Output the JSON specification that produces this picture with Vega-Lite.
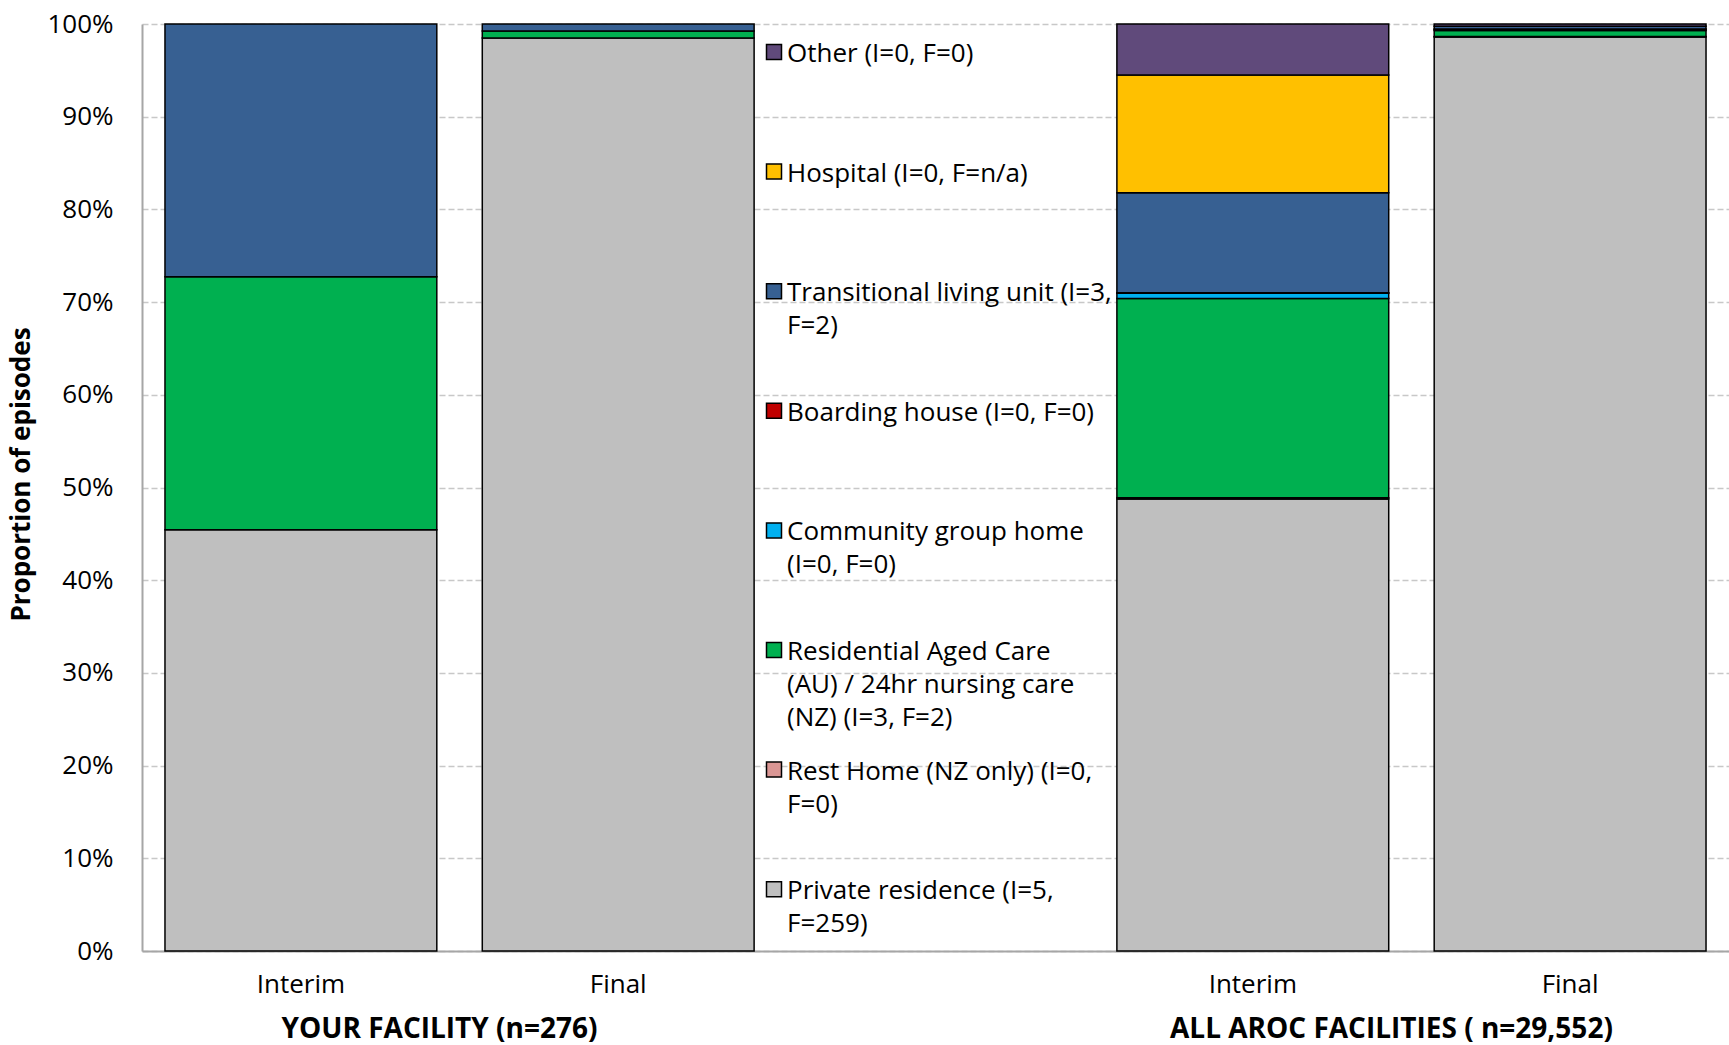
{
  "$schema": "https://vega.github.io/schema/vega-lite/v6.json",
  "width": 1587,
  "height": 927,
  "autosize": {"type": "none"},
  "padding": {"left": 142, "top": 24, "right": 0, "bottom": 94},
  "background": "white",
  "config": {
    "font": "Open Sans",
    "view": {"stroke": null}
  },
  "datasets": {
    "destinations": [
      {"dest": "Private residence (I=5, F=259)", "stack_rank": 1},
      {"dest": "Rest Home (NZ only) (I=0, F=0)", "stack_rank": 2},
      {"dest": "Residential Aged Care (AU) / 24hr nursing care (NZ) (I=3, F=2)", "stack_rank": 3},
      {"dest": "Community group home (I=0, F=0)", "stack_rank": 4},
      {"dest": "Boarding house (I=0, F=0)", "stack_rank": 5},
      {"dest": "Transitional living unit (I=3, F=2)", "stack_rank": 6},
      {"dest": "Hospital (I=0, F=n/a)", "stack_rank": 7},
      {"dest": "Other (I=0, F=0)", "stack_rank": 8}
    ],
    "shares": [
      {"bar": "Your facility – Interim", "dest": "Private residence (I=5, F=259)", "share": 45.45},
      {"bar": "Your facility – Interim", "dest": "Residential Aged Care (AU) / 24hr nursing care (NZ) (I=3, F=2)", "share": 27.27},
      {"bar": "Your facility – Interim", "dest": "Transitional living unit (I=3, F=2)", "share": 27.27},
      {"bar": "Your facility – Final", "dest": "Private residence (I=5, F=259)", "share": 98.48},
      {"bar": "Your facility – Final", "dest": "Residential Aged Care (AU) / 24hr nursing care (NZ) (I=3, F=2)", "share": 0.76},
      {"bar": "Your facility – Final", "dest": "Transitional living unit (I=3, F=2)", "share": 0.76},
      {"bar": "All AROC facilities – Interim", "dest": "Private residence (I=5, F=259)", "share": 48.75},
      {"bar": "All AROC facilities – Interim", "dest": "Rest Home (NZ only) (I=0, F=0)", "share": 0.15},
      {"bar": "All AROC facilities – Interim", "dest": "Residential Aged Care (AU) / 24hr nursing care (NZ) (I=3, F=2)", "share": 21.5},
      {"bar": "All AROC facilities – Interim", "dest": "Community group home (I=0, F=0)", "share": 0.55},
      {"bar": "All AROC facilities – Interim", "dest": "Boarding house (I=0, F=0)", "share": 0.05},
      {"bar": "All AROC facilities – Interim", "dest": "Transitional living unit (I=3, F=2)", "share": 10.8},
      {"bar": "All AROC facilities – Interim", "dest": "Hospital (I=0, F=n/a)", "share": 12.7},
      {"bar": "All AROC facilities – Interim", "dest": "Other (I=0, F=0)", "share": 5.5},
      {"bar": "All AROC facilities – Final", "dest": "Private residence (I=5, F=259)", "share": 98.6},
      {"bar": "All AROC facilities – Final", "dest": "Rest Home (NZ only) (I=0, F=0)", "share": 0.05},
      {"bar": "All AROC facilities – Final", "dest": "Residential Aged Care (AU) / 24hr nursing care (NZ) (I=3, F=2)", "share": 0.65},
      {"bar": "All AROC facilities – Final", "dest": "Community group home (I=0, F=0)", "share": 0.1},
      {"bar": "All AROC facilities – Final", "dest": "Boarding house (I=0, F=0)", "share": 0.05},
      {"bar": "All AROC facilities – Final", "dest": "Transitional living unit (I=3, F=2)", "share": 0.3},
      {"bar": "All AROC facilities – Final", "dest": "Other (I=0, F=0)", "share": 0.25}
    ],
    "groups": [
      {"bar": "Your facility – Interim", "label": "YOUR FACILITY (n=276)"},
      {"bar": "All AROC facilities – Interim", "label": "ALL AROC FACILITIES ( n=29,552)"}
    ]
  },
  "layer": [
    {
      "data": {"name": "shares"},
      "transform": [
        {"lookup": "dest", "from": {"data": {"name": "destinations"}, "key": "dest", "fields": ["stack_rank"]}}
      ],
      "mark": {"type": "bar", "stroke": "black", "strokeWidth": 1.5},
      "encoding": {
        "x": {
          "field": "bar",
          "type": "nominal",
          "sort": null,
          "scale": {
            "domain": ["Your facility – Interim", "Your facility – Final", "(legend)", "All AROC facilities – Interim", "All AROC facilities – Final"],
            "paddingInner": 0.1433,
            "paddingOuter": 0.0724
          },
          "axis": {
            "title": null,
            "labelExpr": "datum.value == '(legend)' ? '' : (indexof(datum.value, 'Interim') >= 0 ? 'Interim' : 'Final')",
            "labelAngle": 0,
            "ticks": false,
            "tickSize": 0,
            "labelPadding": 20,
            "labelFontSize": 26,
            "labelColor": "black",
            "labelFont": "Open Sans",
            "domainColor": "#A6A6A6",
            "domainWidth": 2,
            "grid": false
          }
        },
        "y": {
          "field": "share",
          "type": "quantitative",
          "stack": "normalize",
          "scale": {"domain": [0, 1]},
          "axis": {
            "title": "Proportion of episodes",
            "format": ".0%",
            "values": [0, 0.1, 0.2, 0.3, 0.4, 0.5, 0.6, 0.7, 0.8, 0.9, 1],
            "grid": true,
            "gridDash": [6, 3],
            "gridColor": "#C8C8C8",
            "gridWidth": 1.5,
            "ticks": false,
            "tickSize": 0,
            "domainColor": "#A6A6A6",
            "domainWidth": 2,
            "labelFontSize": 26,
            "labelColor": "black",
            "labelFont": "Open Sans",
            "labelPadding": 29,
            "titleFont": "Open Sans",
            "titleFontSize": 26,
            "titleFontWeight": "bold",
            "titleColor": "black",
            "titleX": -113,
            "titleY": 450,
            "titleBaseline": "alphabetic"
          }
        },
        "order": {"field": "stack_rank", "type": "quantitative"},
        "color": {
          "field": "dest",
          "type": "nominal",
          "scale": {
            "domain": ["Other (I=0, F=0)", "Hospital (I=0, F=n/a)", "Transitional living unit (I=3, F=2)", "Boarding house (I=0, F=0)", "Community group home (I=0, F=0)", "Residential Aged Care (AU) / 24hr nursing care (NZ) (I=3, F=2)", "Rest Home (NZ only) (I=0, F=0)", "Private residence (I=5, F=259)"],
            "range": ["#604A7B", "#FFC000", "#376092", "#C00000", "#00B0F0", "#00B050", "#DA9694", "#BFBFBF"]
          },
          "legend": {
            "title": null,
            "orient": "none",
            "legendX": 619,
            "legendY": 15,
            "direction": "vertical",
            "padding": 0,
            "symbolOffset": 0,
            "symbolType": "square",
            "symbolSize": 225,
            "symbolStrokeColor": "black",
            "symbolStrokeWidth": 1.5,
            "symbolOpacity": 1,
            "labelFont": "Open Sans",
            "labelFontSize": 26,
            "labelColor": "black",
            "labelLimit": 600,
            "labelOffset": 0,
            "labelBaseline": "top",
            "rowPadding": 25.6,
            "labelExpr": "datum.label == 'Transitional living unit (I=3, F=2)' ? ['Transitional living unit (I=3,', 'F=2)', ''] : datum.label == 'Community group home (I=0, F=0)' ? ['Community group home', '(I=0, F=0)', ''] : datum.label == 'Residential Aged Care (AU) / 24hr nursing care (NZ) (I=3, F=2)' ? ['Residential Aged Care', '(AU) / 24hr nursing care', '(NZ) (I=3, F=2)'] : datum.label == 'Rest Home (NZ only) (I=0, F=0)' ? ['Rest Home (NZ only) (I=0,', 'F=0)', ''] : datum.label == 'Private residence (I=5, F=259)' ? ['Private residence (I=5,', 'F=259)', ''] : [datum.label, '', '']",
            "encoding": {
              "labels": {"dy": {"value": -11}, "lineHeight": {"value": 33}}
            }
          }
        }
      }
    },
    {
      "data": {"name": "groups"},
      "mark": {"type": "text", "fontWeight": "bold", "fontSize": 28, "font": "Open Sans", "baseline": "middle", "align": "center", "color": "black"},
      "encoding": {
        "x": {"field": "bar", "type": "nominal", "bandPosition": 1.01},
        "y": {"datum": -0.085, "type": "quantitative", "scale": {"domain": [0, 1]}},
        "text": {"field": "label"}
      }
    }
  ]
}
